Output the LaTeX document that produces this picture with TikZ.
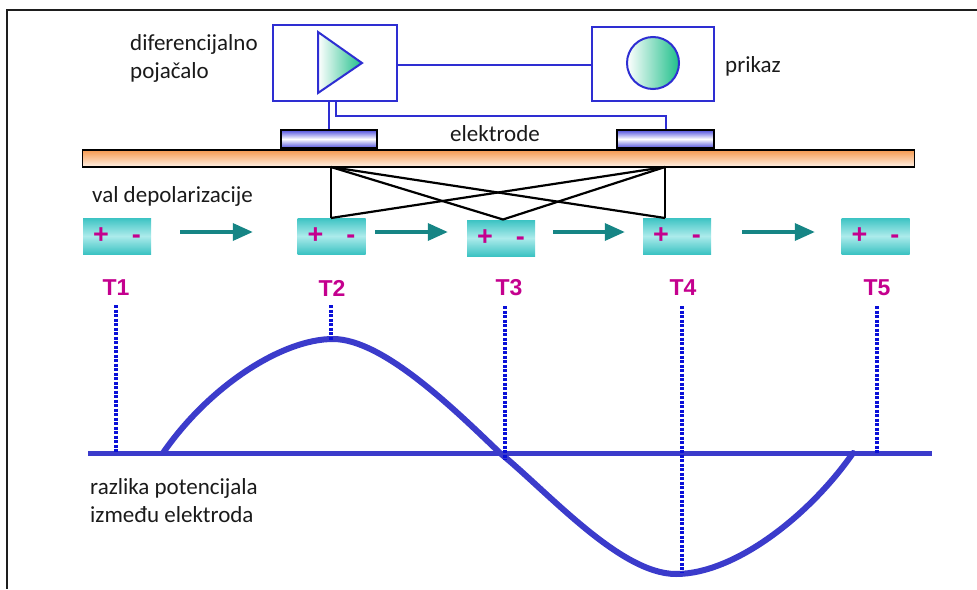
\documentclass[tikz,border=0pt]{standalone}
\usepackage{fontspec}
\setmainfont{Carlito}
\newfontfamily\arialf{Liberation Sans}
\usetikzlibrary{arrows.meta}
\definecolor{bl}{HTML}{2E2ED2}
\definecolor{crv}{HTML}{3B3BCB}
\definecolor{dotc}{HTML}{0A10D8}
\definecolor{mag}{HTML}{C4008E}
\definecolor{tealc}{HTML}{168585}
\definecolor{chgA}{HTML}{3CC3C3}
\definecolor{chgB}{HTML}{ACEBEB}
\definecolor{orA}{HTML}{F59A50}
\definecolor{orB}{HTML}{FFF1E6}
\definecolor{elA}{HTML}{5050DD}
\definecolor{grn}{HTML}{1FBF8A}
\definecolor{txtc}{HTML}{1A1A1A}
\definecolor{frm}{HTML}{1E1E1E}
\begin{document}
\begin{tikzpicture}[x=1pt,y=-1pt,
  txt/.style={font=\fontsize{23}{28}\selectfont, text=txtc, inner sep=0pt},
  bbox/.style={draw=bl, line width=2pt, fill=white, inner sep=0pt, minimum width=124pt, minimum height=76pt},
  wire/.style={draw=bl, line width=2pt},
  elec/.style={draw=black, line width=2pt, top color=elA, bottom color=elA, middle color=white, inner sep=0pt, minimum height=18pt},
  barst/.style={draw=black, line width=1.5pt, top color=orA, bottom color=orB, inner sep=0pt, minimum width=832pt, minimum height=17pt},
  chg/.style={top color=chgA, bottom color=chgA, middle color=chgB, inner sep=0pt, minimum width=68pt, minimum height=36pt,
    font=\arialf\bfseries\fontsize{27}{27}\selectfont, text=mag},
  tlab/.style={font=\arialf\bfseries\fontsize{23}{23}\selectfont, text=mag, inner sep=0pt},
  tarr/.style={draw=tealc, line width=3.5pt, -{Triangle[length=20pt,width=17pt]}},
  cross/.style={draw=black, line width=2.2pt},
  dotl/.style={draw=dotc, line width=3.5pt, dash pattern=on 3pt off 1.5pt},
  curve/.style={draw=crv, line width=6pt, line cap=round},
  axis/.style={draw=crv, line width=5pt},
  frame/.style={draw=frm, line width=2.5pt}
]
\useasboundingbox (0,0) rectangle (977,589);
% frame
\coordinate (fTR) at (977,10);
\coordinate (fTL) at (7,10);
\coordinate (fBL) at (7,589);
\draw[frame] (fTR) -- (fTL) -- (fBL);

% top boxes
\node[bbox] (amp) at (335,63) {};
\node[bbox, minimum width=122pt, minimum height=74pt] (disp) at (653,64) {};
\draw[wire, left color=white, right color=grn] (318,32) -- (318,93) -- (362,63) -- cycle;
\node[circle, draw=bl, line width=2pt, minimum size=52pt, inner sep=0pt, left color=white, right color=grn] (scr) at (653,63) {};
\draw[wire] ([yshift=-2pt]amp.east) -- ([yshift=-2pt]amp.east -| disp.west);

\node[txt, anchor=base west] (dif) at (130,50) {diferencijalno};
\node[txt, anchor=base west] (poj) at (130,78) {pojačalo};
\node[txt, anchor=base west] (prk) at (725,72) {prikaz};

% electrodes and bar
\node[barst] (bar) at (498.5,158.5) {};
\node[elec, minimum width=96pt] (e1) at (329,139) {};
\node[elec, minimum width=97pt] (e2) at (665.5,139) {};
\draw[wire] (e1.north) -- (e1.north |- amp.south);
\draw[wire] ([xshift=1pt]amp.south) -- ++(0,14) -| (e2.north);
\node[txt, anchor=base] (lel) at (495,141.5) {elektrode};

% charges
\node[txt, anchor=base west] (val) at (92,202.5) {val depolarizacije};
\node[chg] (c1) at (117,236) {+\hspace{23pt}-};
\node[chg] (c2) at (331.5,236) {+\hspace{23pt}-};
\node[chg] (c3) at (501,238) {+\hspace{23pt}-};
\node[chg] (c4) at (677,236) {+\hspace{23pt}-};
\node[chg] (c5) at (875.5,236) {+\hspace{23pt}-};

\draw[tarr, shorten <=29pt, shorten >=44.5pt] ([yshift=4pt]c1.east) -- ([yshift=4pt]c1.east -| c2.west);
\draw[tarr, shorten <=9.5pt, shorten >=19pt] ([yshift=4pt]c2.east) -- ([yshift=4pt]c2.east -| c3.west);
\draw[tarr, shorten <=18pt, shorten >=18pt] ([yshift=4pt]c4.west -| c3.east) -- ([yshift=4pt]c4.west);
\draw[tarr, shorten <=31pt, shorten >=26.5pt] ([yshift=4pt]c4.east) -- ([yshift=4pt]c4.east -| c5.west);

% cross lines
\coordinate (b2) at (331,167);
\coordinate (b4) at (665,167);
\coordinate (k2) at (331,218);
\coordinate (k3) at (503,219.5);
\coordinate (k4) at (665,218);
\draw[cross] (b2) -- (k2);
\draw[cross] (b4) -- (k4);
\draw[cross] (b2) -- (k3) -- (b4);
\draw[cross] (b2) -- (k4);
\draw[cross] (b4) -- (k2);

% T labels
\node[tlab] (t1) at (116,288) {T1};
\node[tlab] (t2) at (332,288) {T2};
\node[tlab] (t3) at (509,288) {T3};
\node[tlab] (t4) at (683,288) {T4};
\node[tlab] (t5) at (877,288) {T5};

% axis and curve
\coordinate (axL) at (88,453);
\coordinate (axR) at (932,453);
\draw[axis] (axL) -- (axR);
\coordinate (s0) at (163,453);
\coordinate (pk) at (333,339);
\coordinate (z3) at (500,453);
\coordinate (mn) at (676,574);
\coordinate (s5) at (853,453);
\draw[curve] (s0) .. controls (210,385) and (283,339) .. (pk)
  .. controls (383,339) and (455,410) .. (z3)
  .. controls (548,492) and (620,574) .. (mn)
  .. controls (735,574) and (810,515) .. (s5);

% dotted lines
\coordinate (d1a) at (116,305); \coordinate (d1b) at (116,453);
\coordinate (d2a) at (331,305); \coordinate (d2b) at (331,340);
\coordinate (d3a) at (505,306); \coordinate (d3b) at (505,460);
\coordinate (d4a) at (682,306); \coordinate (d4b) at (682,572);
\coordinate (d5a) at (877,306); \coordinate (d5b) at (877,453);
\draw[dotl] (d1a) -- (d1b);
\draw[dotl] (d2a) -- (d2b);
\draw[dotl] (d3a) -- (d3b);
\draw[dotl] (d4a) -- (d4b);
\draw[dotl] (d5a) -- (d5b);

\node[txt, anchor=base west] (raz) at (90,494) {razlika potencijala};
\node[txt, anchor=base west] (izm) at (90,522) {između elektroda};
\end{tikzpicture}
\end{document}
